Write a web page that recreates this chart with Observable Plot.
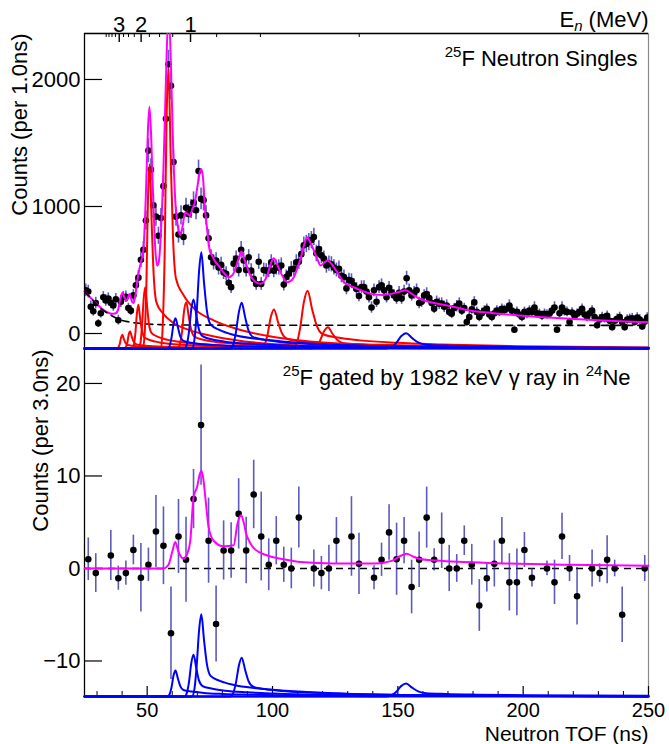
<!DOCTYPE html>
<html><head><meta charset="utf-8">
<script src="https://cdn.jsdelivr.net/npm/d3@7"></script>
<script src="https://cdn.jsdelivr.net/npm/@observablehq/plot@0.6"></script>
<style>
body{margin:0;background:#fff;}
#chart{position:relative;width:669px;height:744px;background:#fff;}
#topPanel,#bottomPanel{position:absolute;left:0;}
#topPanel{top:0}
#bottomPanel{top:348px}
</style></head><body><div id="chart"><div id="bottomPanel"></div><div id="topPanel"></div></div>
<script>
// ---------- axis ranges & ticks ----------
const tofRange = [25, 250];
const yDomainTop = [-118, 2362];
const yDomainBottom = [-13.84, 23.78];
const yTicksTop = [0, 1000, 2000];
const yTicksBottom = [-10, 0, 10, 20];
const xTicksMajor = [50, 100, 150, 200, 250];
const xTicksMinor = [30, 40, 60, 70, 80, 90, 110, 120, 130, 140, 160, 170, 180, 190, 210, 220, 230, 240];
const energyMajor = [1, 2, 3];
const energyMinor = [0.25, 0.5, 0.75, 1.25, 1.5, 1.75, 2.25, 2.5, 2.75, 3.25, 3.5, 3.75, 4];
const tofAt1MeV = 67.3; // ns, flight time of a 1 MeV neutron

// ---------- texts ----------
const enLabel = "En (MeV)";
const enParts = [["E", ""], ["n", "sub"], [" (MeV)", ""]];
const topTitle = "25F Neutron Singles";
const topTitleParts = [["25", "sup"], ["F Neutron Singles", ""]];
const bottomTitle = "25F gated by 1982 keV γ ray in 24Ne";
const bottomTitleParts = [["25", "sup"], ["F gated by 1982 keV γ ray in ", ""], ["24", "sup"], ["Ne", ""]];
const yLabelTop = "Counts (per 1.0ns)";
const yLabelBottom = "Counts (per 3.0ns)";
const xLabel = "Neutron TOF (ns)";

// ---------- top panel: singles, 1 ns bins starting at 25.5 ns ----------
const singlesStart = 25.5;
const singlesCounts = [
 340,330,210,175,240,80,160,285,260,275,
 240,220,270,105,250,285,290,200,180,300,
 380,440,580,660,890,1440,1290,1010,920,770,
 910,1160,1690,2120,1950,1350,920,780,930,760,
 990,940,980,1030,970,1280,1060,1050,930,750,
 600,560,575,520,540,480,470,400,365,550,
 590,500,660,575,500,600,495,430,390,565,
 390,500,495,495,560,495,520,520,535,385,
 445,470,505,510,560,565,625,695,705,720,
 735,760,630,665,615,590,535,550,545,520,
 500,510,455,445,355,420,415,380,350,295,
 365,365,330,285,205,340,250,365,380,340,
 285,360,325,300,275,320,275,330,435,340,
 300,320,340,240,250,300,310,280,240,195,
 250,235,235,210,220,170,155,200,215,235,
 180,200,90,130,190,245,170,130,160,180,
 195,150,130,160,180,170,195,185,195,220,
 180,30,170,150,130,170,155,180,170,205,
 160,155,140,155,150,155,180,205,30,160,
 205,175,170,90,165,140,155,170,195,150,
 130,160,180,130,65,110,130,120,140,100,
 50,100,115,130,90,50,110,115,120,90,
 125,110,55,95,125];
const singlesErrors = [
 50,50,45,38,45,30,38,45,45,45,
 45,45,45,38,45,45,45,38,38,45,
 50,55,60,65,75,95,85,85,75,68,
 75,85,95,110,110,95,75,68,75,68,
 75,75,75,85,75,85,85,85,75,68,
 60,60,60,60,60,55,55,50,50,60,
 60,55,65,60,55,60,55,55,50,60,
 50,55,55,55,60,55,60,60,60,50,
 55,55,60,60,60,60,65,65,68,68,
 68,68,65,65,65,60,60,60,60,60,
 55,60,55,55,50,55,55,50,50,45,
 50,50,50,45,45,50,45,50,50,50,
 45,50,50,45,45,50,45,50,55,50,
 45,50,50,45,45,45,50,45,45,38,
 45,45,45,45,45,38,38,38,45,45,
 38,38,30,38,38,45,38,38,38,38,
 38,38,38,38,38,38,38,38,38,45,
 38,30,38,38,38,38,38,38,38,45,
 38,38,38,38,38,38,38,45,30,38,
 45,38,38,30,38,38,38,38,38,38,
 38,38,38,38,30,38,38,38,38,30,
 30,30,38,38,30,30,38,38,38,30,
 38,38,30,30,38];

// total fit (magenta) and background (dashed), top panel
const fitTop = [[25,330],[28,270],[30.5,220],[33,180],[35.9,155],[37.5,160],[38.5,194],[39.5,290],[40.2,320],[41,280],[41.9,260],[42.9,312],[44,250],[44.6,240],[45.5,330],[46.5,470],[47.5,560],[48.5,660],[49.5,1100],[50.3,1600],[50.9,1785],[51.6,1550],[52.5,1000],[53.3,650],[53.9,535],[54.6,560],[55.5,800],[56.5,1300],[57.5,2000],[58.3,2450],[58.8,2450],[59.5,2100],[60.3,1500],[61.2,1050],[62.2,850],[63.2,775],[64,830],[65.2,955],[66.2,940],[67,925],[68,980],[69,1030],[70,1150],[71,1270],[71.6,1295],[72.3,1220],[73,1000],[73.9,824],[75,650],[75.9,614],[77,570],[78.5,535],[80.5,480],[82.5,443],[84,460],[85.2,509],[86.5,590],[87.6,645],[88.5,600],[89.9,522],[91.2,455],[93,410],[95.2,391],[97.9,457],[99.5,560],[100.5,593],[101.5,560],[103.2,483],[105.9,404],[107,410],[108.5,443],[110,520],[111.2,588],[112.5,690],[113.9,758],[115,720],[116.5,654],[118,580],[119.2,535],[120.5,555],[121.9,575],[123,560],[124.5,522],[126.5,460],[128.5,404],[131,375],[133.9,352],[136.5,330],[139.2,312],[142,305],[144.5,304],[147.5,312],[150,325],[153.2,340],[155,320],[156.5,299],[158.5,275],[160.5,260],[165.9,234],[171.2,215],[178.5,181],[188,160],[198.5,142],[208,128],[218.5,116],[228,106],[238.5,97],[250,89]];
const bgTop = [[25,330],[28,270],[30.5,215],[33,175],[35.9,140],[38,118],[40,103],[42.5,92],[45,84],[50,75],[55,70],[65,67],[100,65],[250,64]];

// red resonance components (height above the panel floor)
const red1 = [[25,0],[38.0,0],[38.5,9],[39.1,38],[39.6,86],[40.1,108],[40.7,73],[41.4,43],[42.2,27],[44.3,21],[47.4,15],[52.6,11],[58.9,8],[69.4,4],[92.4,2],[250,0]];
const red2 = [[25,0],[41.0,0],[41.5,11],[42.1,47],[42.6,107],[43.2,134],[43.9,91],[44.6,54],[45.5,34],[47.7,25],[51.1,19],[56.7,13],[63.5,9],[74.7,5],[99.4,2],[250,0]];
const red3 = [[25,0],[44.1,0],[44.7,28],[45.3,120],[45.9,275],[46.5,344],[47.2,234],[48.0,138],[48.9,86],[51.3,65],[55.0,48],[61.0,34],[68.3,24],[80.4,14],[107.0,5],[250,0]];
const red4 = [[25,0],[46.6,0],[47.3,39],[47.9,169],[48.6,386],[49.2,483],[50.0,328],[50.7,193],[51.8,121],[54.3,92],[58.2,68],[64.6,48],[72.2,34],[85.0,19],[113.2,7],[250,0]];
const red5 = [[25,0],[48.3,0],[49.0,116],[49.7,508],[50.3,1160],[51.0,1450],[51.8,986],[52.6,580],[53.7,363],[56.3,276],[60.3,203],[66.9,145],[74.9,102],[88.1,58],[117.3,22],[250,0]];
const red6 = [[25,0],[55.5,0],[56.2,176],[57.0,770],[57.7,1760],[58.5,2200],[59.4,1496],[60.3,880],[61.5,550],[64.6,418],[69.1,308],[76.7,220],[85.9,154],[101.1,88],[134.5,33],[250,0]];
const red7 = [[25,0],[62.2,0],[63.0,29],[63.9,128],[64.7,292],[65.6,365],[66.6,248],[67.6,146],[69.0,91],[72.4,69],[77.5,51],[86.1,37],[96.3,26],[113.3,15],[150.9,5],[250,0]];
const red8 = [[25,0],[95.4,0],[96.7,25],[98.0,107],[99.3,246],[100.6,307],[102.2,209],[103.7,123],[105.8,77],[111.1,58],[118.9,43],[132.0,31],[147.7,21],[173.8,12],[231.4,5],[250,4]];
const red9 = [[25,0],[108.1,0],[109.6,36],[111.0,159],[112.5,363],[114.0,454],[115.8,309],[117.6,182],[119.9,114],[125.9,86],[134.8,64],[149.6,45],[167.4,32],[197.0,18],[250,8]];
const red10 = [[25,0],[115.8,0],[117.3,13],[118.9,59],[120.5,134],[122.1,168],[124.0,114],[125.9,67],[128.5,42],[134.8,32],[144.3,24],[160.2,17],[179.3,12],[211.0,7],[250,3]];

// blue components: shared TOF knots, heights for top and bottom panels
const blue1Tof = [25,58.1,58.9,59.7,60.5,61.3,62.3,63.2,64.5,67.7,72.5,80.4,90.0,105.9,141.1,250];
const blue1Top = [0,0,19,84,191,239,163,96,60,45,33,24,17,10,4,0];
const blue1Bot = [0,0,0.22,0.98,2.24,2.8,1.9,1.12,0.7,0.53,0.39,0.28,0.2,0.11,0.04,0];
const blue2Tof = [25,64.9,65.8,66.7,67.6,68.5,69.6,70.6,72.1,75.6,81.0,89.9,100.5,118.3,157.5,250];
const blue2Top = [0,0,31,135,309,386,262,154,97,73,54,39,27,15,6,0];
const blue2Bot = [0,0,0.36,1.58,3.6,4.5,3.06,1.8,1.13,0.86,0.63,0.45,0.32,0.18,0.07,0];
const blue3Tof = [25,67.9,68.8,69.7,70.7,71.6,72.7,73.8,75.3,79.0,84.6,93.9,105.1,123.7,164.6,250];
const blue3Top = [0,0,61,265,606,758,515,303,190,144,106,76,53,30,11,0];
const blue3Bot = [0,0,0.71,3.12,7.12,8.9,6.05,3.56,2.23,1.69,1.25,0.89,0.62,0.36,0.13,0];
const blue4Tof = [25,83.1,84.3,85.4,86.6,87.7,89.1,90.4,92.3,96.8,103.7,115.1,128.7,151.5,201.7,250];
const blue4Top = [0,0,29,126,288,360,245,144,90,68,50,36,25,14,5,2];
const blue4Bot = [0,0,0.34,1.47,3.36,4.2,2.86,1.68,1.05,0.8,0.59,0.42,0.29,0.17,0.06,0.02];
const blue5Tof = [25,145.3,147.3,149.3,151.3,153.3,155.7,158.1,161.3,169.2,181.2,201.1,225.0,250];
const blue5Top = [0,0,10,42,96,120,82,48,30,23,17,12,8,6];
const blue5Bot = [0,0,0.11,0.49,1.12,1.4,0.95,0.56,0.35,0.27,0.2,0.14,0.1,0.07];

// ---------- bottom panel: gated, 3 ns bins ----------
const gatedTof = [26.5,29.5,35.5,38.5,41.5,44.5,47.5,50.5,53.5,56.5,59.5,62.5,65.5,68.5,71.5,74.5,77.5,80.5,83.5,86.5,89.5,92.5,95.5,98.5,101.5,104.5,107.5,110.5,116.5,119.5,122.5,125.5,131.5,134.5,140.5,143.5,146.5,149.5,152.5,155.5,158.5,161.5,164.5,167.5,170.5,173.5,176.5,179.5,182.5,185.5,188.5,191.5,194.5,197.5,200.5,203.5,209.5,212.5,215.5,218.5,221.5,227.5,230.5,233.5,236.5,239.5,248.5];
const gatedCounts = [1.0,-0.5,1.4,-1.05,-0.5,2.0,-1.0,0.4,4.0,2.45,-7.0,3.46,0.94,7.5,15.5,3.0,-6.0,1.95,1.95,5.9,1.95,8.0,3.46,0.4,3.0,0.4,0,5.5,0,-0.5,0,3.0,3.46,0.5,-1.0,0.94,3.9,1.0,3.0,-2.0,0.94,5.5,0.94,3.0,0,0,3.0,0.4,-4.0,-1.05,0.5,3.0,-1.5,-1.5,2.0,-1.0,0,-1.5,3.46,0,-3.0,0,-0.5,0.94,0,-5.0,0];
const gatedErrors = [2.3,2.1,2.7,1.3,1.3,1.6,3.7,1.8,3.9,4.2,5.0,4.0,4.6,3.2,6.5,4.6,4.1,3.2,3.0,3.8,3.6,3.7,4.8,2.8,2.6,1.9,2.2,3.3,2.0,1.8,2.5,2.5,4.3,3.3,1.3,1.8,3.0,3.9,2.5,2.9,3.0,3.3,1.2,3.0,2.5,1.5,1.6,2.2,2.8,1.5,2.5,2.5,3.1,3.6,1.9,1.0,0.8,2.4,2.5,1.4,3.1,2.0,1.0,2.6,0.9,3.0,1.4];
const fitBottom = [[25,0],[56.5,0],[58.5,0.4],[60,1.8],[61.2,2.85],[62.5,1.8],[64.5,1.05],[66,1.6],[67.2,3.0],[68.5,7.7],[69.9,8.8],[71,10.2],[71.6,10.6],[72.5,9.5],[73.2,7.7],[74.5,4.5],[76.5,3.0],[80.5,2.4],[84.5,2.5],[86,4.8],[87.5,5.75],[88.5,5.0],[89.5,3.75],[91,2.8],[92.5,2.2],[97.9,1.4],[104.5,1.0],[111.2,0.7],[124.5,0.55],[141.2,0.55],[147.9,0.85],[151,1.35],[153.5,1.6],[156,1.3],[158.5,1.05],[165.2,0.85],[191.9,0.55],[218.5,0.4],[250,0.3]];
const bottomBaseline = [0];

// ---------- build ----------
const FONT = "'Liberation Sans', Arial, Helvetica, sans-serif";
const W = 669, H_TOP = 348, H_BOT = 396, ML = 84, MR = 21;
const FRAME_W = W - ML - MR;
const FRAME_H_TOP = H_TOP - 33;
const FRAME_H_BOT = H_BOT - 48;
const ERR = "#2424a8", MAG = "#ff00ff", RED = "#ff0000", BLUE = "#0000ff";

const singles = singlesCounts.map((c, i) => ({tof: singlesStart + i, c, e: singlesErrors[i]}));
const gated = gatedTof.map((t, i) => ({tof: t, c: gatedCounts[i], e: gatedErrors[i]}));
const toPts = (pairs, base) => pairs.map(([t, h]) => ({tof: t, y: base + h}));
const zipPts = (ts, hs, base) => ts.map((t, i) => ({tof: t, y: base + hs[i]}));
const pairPts = pairs => pairs.map(([t, v]) => ({tof: t, y: v}));
const tofOfE = e => tofAt1MeV / Math.sqrt(e);

const reds = [red1, red2, red3, red4, red5, red6, red7, red8, red9, red10];
const bluesTop = [[blue1Tof, blue1Top], [blue2Tof, blue2Top], [blue3Tof, blue3Top], [blue4Tof, blue4Top], [blue5Tof, blue5Top]];
const bluesBot = [[blue1Tof, blue1Bot], [blue2Tof, blue2Bot], [blue3Tof, blue3Bot], [blue4Tof, blue4Bot], [blue5Tof, blue5Bot]];

const lineOpts = (stroke) => ({x: "tof", y: "y", stroke, strokeWidth: 2, curve: "monotone-x"});

const topPlot = Plot.plot({
  width: W, height: H_TOP, marginLeft: ML, marginRight: MR, marginTop: 33, marginBottom: 0,
  style: {fontFamily: FONT, fontSize: "22px", background: "transparent", overflow: "visible", color: "black"},
  x: {domain: tofRange, axis: null},
  y: {domain: yDomainTop},
  marks: [
    Plot.frame({stroke: "#8a8a8a", strokeWidth: 1.2}),
    Plot.ruleX([tofRange[0]], {stroke: "black", strokeWidth: 1.2}),
    Plot.ruleY([yDomainTop[1]], {stroke: "black", strokeWidth: 1.4}),
    Plot.axisY({ticks: yTicksTop, tickSize: 0, tickPadding: 4, label: null, tickFormat: d => String(d)}),
    Plot.tickY(yTicksTop, {stroke: "black", strokeWidth: 1.2, insetRight: FRAME_W - 18}),
    Plot.tickX(energyMajor, {x: tofOfE, stroke: "black", strokeWidth: 1.4, insetBottom: FRAME_H_TOP - 9}),
    Plot.tickX(energyMinor, {x: tofOfE, stroke: "black", strokeWidth: 1, insetBottom: FRAME_H_TOP - 4}),
    Plot.text(energyMajor, {x: tofOfE, text: d => String(d), frameAnchor: "top", lineAnchor: "bottom", dy: -2}),
    Plot.text([enLabel], {frameAnchor: "top-right", textAnchor: "end", lineAnchor: "bottom", dy: -7}),
    Plot.text([yLabelTop], {frameAnchor: "top-left", rotate: -90, textAnchor: "end", lineAnchor: "middle", dx: -65}),
    Plot.ruleX(singles, {x: "tof", y1: d => d.c - d.e, y2: d => d.c + d.e, stroke: ERR, strokeWidth: 1.6, strokeOpacity: 0.75, clip: true}),
    Plot.dot(singles, {x: "tof", y: "c", r: 3.3, fill: "black", clip: true}),
    Plot.line(pairPts(fitTop), {...lineOpts(MAG), clip: true}),
    Plot.line(pairPts(bgTop), {x: "tof", y: "y", stroke: "black", strokeWidth: 1.6, strokeDasharray: "7,5", curve: "monotone-x"}),
    ...reds.map(r => Plot.line(toPts(r, yDomainTop[0]), lineOpts(RED))),
    ...bluesTop.map(([ts, hs]) => Plot.line(zipPts(ts, hs, yDomainTop[0]), lineOpts(BLUE))),
    Plot.text([topTitle], {frameAnchor: "top-right", textAnchor: "end", lineAnchor: "bottom", dx: -11, dy: 32})
  ]
});

const botPlot = Plot.plot({
  width: W, height: H_BOT, marginLeft: ML, marginRight: MR, marginTop: 0, marginBottom: 48,
  style: {fontFamily: FONT, fontSize: "22px", background: "transparent", overflow: "visible", color: "black"},
  x: {domain: tofRange},
  y: {domain: yDomainBottom},
  marks: [
    Plot.frame({stroke: "#8a8a8a", strokeWidth: 1.2}),
    Plot.ruleX([tofRange[0]], {stroke: "black", strokeWidth: 1.2}),
    Plot.ruleY([yDomainBottom[0]], {stroke: "black", strokeWidth: 1.4}),
    Plot.axisY({ticks: yTicksBottom, tickSize: 0, tickPadding: 4, label: null, tickFormat: d => d < 0 ? "\u2212" + Math.abs(d) : String(d)}),
    Plot.tickY(yTicksBottom, {stroke: "black", strokeWidth: 1.2, insetRight: FRAME_W - 18}),
    Plot.axisX({ticks: xTicksMajor, tickSize: 0, tickPadding: 6, fontSize: 20, label: null, tickFormat: d => String(d)}),
    Plot.tickX(xTicksMajor, {stroke: "black", strokeWidth: 1.2, insetTop: FRAME_H_BOT - 10}),
    Plot.tickX(xTicksMinor, {stroke: "black", strokeWidth: 1, insetTop: FRAME_H_BOT - 5}),
    Plot.text([xLabel], {frameAnchor: "bottom-right", textAnchor: "end", lineAnchor: "bottom", fontSize: 21, dy: 44}),
    Plot.text([yLabelBottom], {frameAnchor: "top-left", rotate: -90, textAnchor: "end", lineAnchor: "middle", dx: -44, dy: 1}),
    Plot.ruleY(bottomBaseline, {stroke: "black", strokeWidth: 1.6, strokeDasharray: "7,5"}),
    Plot.ruleX(gated, {x: "tof", y1: d => d.c - d.e, y2: d => d.c + d.e, stroke: ERR, strokeWidth: 1.6, strokeOpacity: 0.75}),
    Plot.dot(gated, {x: "tof", y: "c", r: 3.3, fill: "black"}),
    Plot.line(pairPts(fitBottom), lineOpts(MAG)),
    ...bluesBot.map(([ts, hs]) => Plot.line(zipPts(ts, hs, yDomainBottom[0]), lineOpts(BLUE))),
    Plot.text([bottomTitle], {frameAnchor: "top-right", textAnchor: "end", lineAnchor: "bottom", dx: -18, dy: 36})
  ]
});

function richText(svg, plain, parts, size) {
  d3.select(svg).selectAll("text").filter(function () { return this.textContent === plain; }).each(function () {
    const t = d3.select(this);
    t.text(null);
    let shift = 0;
    for (const [s, kind] of parts) {
      const target = kind === "sup" ? -0.4 * size : kind === "sub" ? 0.22 * size : 0;
      const span = t.append("tspan").text(s).attr("dy", target - shift);
      if (kind) span.attr("font-size", Math.round(0.68 * size));
      if (kind === "sub") span.attr("font-style", "italic");
      shift = target;
    }
  });
}
richText(topPlot, enLabel, enParts, 22);
richText(topPlot, topTitle, topTitleParts, 22);
richText(botPlot, bottomTitle, bottomTitleParts, 22);

document.getElementById("topPanel").appendChild(topPlot);
document.getElementById("bottomPanel").appendChild(botPlot);
</script></body></html>
